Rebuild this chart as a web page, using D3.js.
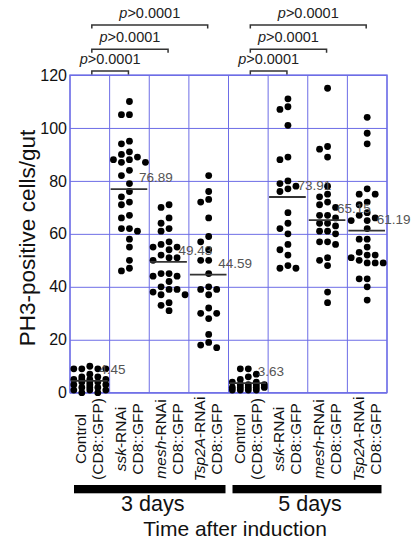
<!DOCTYPE html>
<html><head><meta charset="utf-8">
<script src="https://cdn.jsdelivr.net/npm/d3@7"></script>
<style>
html,body{margin:0;padding:0;background:#fff;}
svg{display:block;font-family:"Liberation Sans",Arial,Helvetica,sans-serif;}
</style></head>
<body>
<svg id="chart" width="414" height="541"></svg>
<script>
// ---- data ----
const groupIds = ["c3","ssk3","mesh3","tsp3","c5","ssk5","mesh5","tsp5"];
const geneNames = ["Control","ssk","mesh","Tsp2A","Control","ssk","mesh","Tsp2A"];
const days = ["3 days","5 days"];
const yTicks = [0,20,40,60,80,100,120];
const means = [4.45,76.89,49.43,44.59,3.63,73.91,65.15,61.19];
const control3d = [10,9,9,9,9,7,6,6,5,5,5,5,4,4,4,3,3,3,2,2,2,1,1,1,0,0];
const ssk3d = [110,105,105,95,94,91,90,88,88,89,87,87,84,82,79,76,74,72,71,67,66,62,61,62,58,55,50,47,46];
const mesh3d = [71,70,66,64,62,61,57,56,55,55,54,52,51,51,50,45,44,44,45,42,40,39,39,38,37,37,34,33,31];
const tsp3d = [82,76,73,72,66,59,57,54,50,50,45,40,39,39,37,32,30,30,28,22,18,19,17];
const control5d = [9,9,7,6,5,4,4,3,3,3,3,2,2,2,2,2,1,1,1,1];
const ssk5d = [111,108,107,101,88,89,80,79,77,76,78,68,64,62,60,56,54,52,47,47,48];
const mesh5d = [115,93,92,89,78,75,74,72,71,70,67,67,66,64,64,63,61,61,60,57,57,56,50,51,48,38,34];
const tsp5d = [104,98,94,77,75,75,72,71,68,67,66,65,65,62,58,58,55,50,51,53,52,52,49,49,49,43,43,40,35];
const series = [control3d,ssk3d,mesh3d,tsp3d,control5d,ssk5d,mesh5d,tsp5d];
const pLabel = "0.0001";
const comparisons = [[0,1],[0,2],[0,3],[4,5],[4,6],[4,7]];
const compLevel = [0,1,2,0,1,2];

// ---- layout ----
const svg = d3.select("#chart");
const L = 70, R = 387, T = 75, B = 392.7;
const x = d3.scaleBand().domain(groupIds).range([L,R]).paddingInner(0).paddingOuter(0);
const y = d3.scaleLinear().domain([0,120]).range([B,T]);
const bw = x.bandwidth();
const cx = i => x(groupIds[i]) + bw/2;
const gridColor = "#6d6de6";

// horizontal grid + tick labels
const yAxis = d3.axisLeft(y).tickValues(yTicks).tickSize(-(R-L)).tickSizeOuter(0).tickPadding(4);
const gy = svg.append("g").attr("transform",`translate(${L},0)`).call(yAxis);
gy.select(".domain").remove();
gy.selectAll(".tick line").attr("stroke",gridColor).attr("stroke-width",1);
gy.selectAll(".tick text").attr("font-size","16px").attr("fill","#111")
  .attr("font-family","'Liberation Sans',Arial,sans-serif").attr("x",-3);

// vertical grid at band boundaries
const bounds = groupIds.map(g=>x(g)).concat([R]);
svg.append("g").selectAll("line").data(bounds).join("line")
  .attr("x1",d=>d).attr("x2",d=>d).attr("y1",T).attr("y2",B)
  .attr("stroke",gridColor).attr("stroke-width",1);
svg.append("rect").attr("x",L).attr("y",T).attr("width",R-L).attr("height",B-T)
  .attr("fill","none").attr("stroke",gridColor).attr("stroke-width",1.3);

// beeswarm
const r = 3.4, laneW = 8;
function swarm(vals, center){
  const placed = [];
  const sorted = vals.slice().sort((a,b)=>b-a);
  const order = [0,-1,1,-2,2];
  sorted.forEach(v=>{
    const py = y(v);
    let chosen = null;
    for(const k of order){
      const ok = placed.every(p=>p.k!==k || Math.abs(p.py-py) >= 6.6);
      if(ok){chosen=k;break;}
    }
    if(chosen===null){
      let best=-1;
      for(const k of order){
        const md = d3.min(placed.filter(p=>p.k===k).map(p=>Math.abs(p.py-py)));
        const m = md===undefined?99:md;
        if(m>best+0.5){best=m;chosen=k;}
      }
    }
    placed.push({k:chosen,py,px:center+chosen*laneW});
  });
  return placed;
}
const dotG = svg.append("g");
series.forEach((vals,i)=>{
  dotG.selectAll(null).data(swarm(vals,cx(i))).join("circle")
    .attr("cx",d=>d.px).attr("cy",d=>d.py).attr("r",r).attr("fill","#000");
});

// mean lines + labels
svg.append("g").selectAll("line").data(means).join("line")
  .attr("x1",(d,i)=>x(groupIds[i])+1).attr("x2",(d,i)=>x(groupIds[i])+bw-2)
  .attr("y1",d=>y(d)).attr("y2",d=>y(d)).attr("stroke","#333").attr("stroke-width",1.8);
svg.append("g").selectAll("text").data(means).join("text")
  .attr("x",(d,i)=>cx(i)+9.5).attr("y",d=>y(d)-7)
  .attr("font-size","13.5px").attr("fill","#555").text(d=>d.toFixed(2));

// significance brackets
const levelY = [71,49.3,25];
const bg = svg.append("g");
comparisons.forEach((c,j)=>{
  const x1 = cx(c[0])+2, x2 = cx(c[1])-1, yy = levelY[compLevel[j]];
  bg.append("path").attr("d",`M${x1},${yy+3.5}V${yy}H${x2}V${yy+3.5}`)
    .attr("fill","none").attr("stroke","#333").attr("stroke-width",1.5);
  const t = bg.append("text").attr("x",(x1+x2)/2).attr("y",yy-7)
    .attr("text-anchor","middle").attr("font-size","14.5px").attr("fill","#222");
  t.append("tspan").attr("font-style","italic").text("p");
  t.append("tspan").text(">"+pLabel);
});

// x category labels (rotated, centred)
const xl = svg.append("g");
geneNames.forEach((name,i)=>{
  const c = cx(i), ym = 439;
  const t1 = xl.append("text").attr("transform",`translate(${c-3.5},${ym}) rotate(-90)`)
    .attr("text-anchor","middle").attr("font-size","15.5px").attr("fill","#111");
  const t2 = xl.append("text").attr("transform",`translate(${c+13.5},${ym}) rotate(-90)`)
    .attr("text-anchor","middle").attr("font-size","15.5px").attr("fill","#111");
  if(name==="Control"){
    t1.text("Control");
    t2.text("(CD8::GFP)");
  } else {
    t1.append("tspan").attr("font-style","italic").text(name);
    t1.append("tspan").text("-RNAi");
    t2.text("CD8::GFP");
  }
});

// day bars
days.forEach((d,k)=>{
  const a = x(groupIds[k*4])+4, b = x(groupIds[k*4+3])+bw-(k===0?3:5.5);
  svg.append("rect").attr("x",a).attr("y",485).attr("width",b-a).attr("height",8.3).attr("fill","#000");
  svg.append("text").attr("x",(a+b)/2+3).attr("y",511).attr("text-anchor","middle")
    .attr("font-size","21.5px").attr("fill","#111").text(d);
});
svg.append("text").attr("x",235).attr("y",536).attr("text-anchor","middle")
  .attr("font-size","21px").attr("fill","#111").text("Time after induction");

// y title
svg.append("text").attr("transform",`translate(35,238) rotate(-90)`).attr("text-anchor","middle")
  .attr("font-size","22.5px").attr("fill","#111").text("PH3-positive cells/gut");
</script>
</body></html>
